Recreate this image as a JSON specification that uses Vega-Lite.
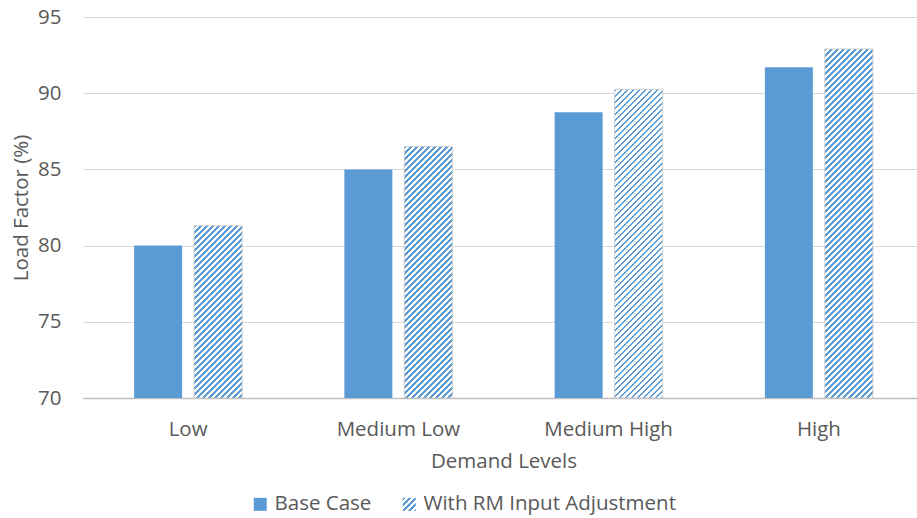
{
  "$schema": "https://vega.github.io/schema/vega-lite/v6.json",
  "width": 834,
  "height": 381,
  "autosize": {"type": "none"},
  "padding": {"left": 83, "top": 17, "right": 0, "bottom": 120},
  "params": [
    {
      "name": "hatch",
      "value": [
        {"offset":0.00,"color":"#5b9bd5"},{"offset":0.004,"color":"#5b9bd5"},{"offset":0.004,"color":"#fff"},{"offset":0.01,"color":"#fff"},
        {"offset":0.01,"color":"#5b9bd5"},{"offset":0.014,"color":"#5b9bd5"},{"offset":0.014,"color":"#fff"},{"offset":0.02,"color":"#fff"},
        {"offset":0.02,"color":"#5b9bd5"},{"offset":0.024,"color":"#5b9bd5"},{"offset":0.024,"color":"#fff"},{"offset":0.03,"color":"#fff"},
        {"offset":0.03,"color":"#5b9bd5"},{"offset":0.034,"color":"#5b9bd5"},{"offset":0.034,"color":"#fff"},{"offset":0.04,"color":"#fff"},
        {"offset":0.04,"color":"#5b9bd5"},{"offset":0.044,"color":"#5b9bd5"},{"offset":0.044,"color":"#fff"},{"offset":0.05,"color":"#fff"},
        {"offset":0.05,"color":"#5b9bd5"},{"offset":0.054,"color":"#5b9bd5"},{"offset":0.054,"color":"#fff"},{"offset":0.06,"color":"#fff"},
        {"offset":0.06,"color":"#5b9bd5"},{"offset":0.064,"color":"#5b9bd5"},{"offset":0.064,"color":"#fff"},{"offset":0.07,"color":"#fff"},
        {"offset":0.07,"color":"#5b9bd5"},{"offset":0.074,"color":"#5b9bd5"},{"offset":0.074,"color":"#fff"},{"offset":0.08,"color":"#fff"},
        {"offset":0.08,"color":"#5b9bd5"},{"offset":0.084,"color":"#5b9bd5"},{"offset":0.084,"color":"#fff"},{"offset":0.09,"color":"#fff"},
        {"offset":0.09,"color":"#5b9bd5"},{"offset":0.094,"color":"#5b9bd5"},{"offset":0.094,"color":"#fff"},{"offset":0.10,"color":"#fff"},
        {"offset":0.10,"color":"#5b9bd5"},{"offset":0.104,"color":"#5b9bd5"},{"offset":0.104,"color":"#fff"},{"offset":0.11,"color":"#fff"},
        {"offset":0.11,"color":"#5b9bd5"},{"offset":0.114,"color":"#5b9bd5"},{"offset":0.114,"color":"#fff"},{"offset":0.12,"color":"#fff"},
        {"offset":0.12,"color":"#5b9bd5"},{"offset":0.124,"color":"#5b9bd5"},{"offset":0.124,"color":"#fff"},{"offset":0.13,"color":"#fff"},
        {"offset":0.13,"color":"#5b9bd5"},{"offset":0.134,"color":"#5b9bd5"},{"offset":0.134,"color":"#fff"},{"offset":0.14,"color":"#fff"},
        {"offset":0.14,"color":"#5b9bd5"},{"offset":0.144,"color":"#5b9bd5"},{"offset":0.144,"color":"#fff"},{"offset":0.15,"color":"#fff"},
        {"offset":0.15,"color":"#5b9bd5"},{"offset":0.154,"color":"#5b9bd5"},{"offset":0.154,"color":"#fff"},{"offset":0.16,"color":"#fff"},
        {"offset":0.16,"color":"#5b9bd5"},{"offset":0.164,"color":"#5b9bd5"},{"offset":0.164,"color":"#fff"},{"offset":0.17,"color":"#fff"},
        {"offset":0.17,"color":"#5b9bd5"},{"offset":0.174,"color":"#5b9bd5"},{"offset":0.174,"color":"#fff"},{"offset":0.18,"color":"#fff"},
        {"offset":0.18,"color":"#5b9bd5"},{"offset":0.184,"color":"#5b9bd5"},{"offset":0.184,"color":"#fff"},{"offset":0.19,"color":"#fff"},
        {"offset":0.19,"color":"#5b9bd5"},{"offset":0.194,"color":"#5b9bd5"},{"offset":0.194,"color":"#fff"},{"offset":0.20,"color":"#fff"},
        {"offset":0.20,"color":"#5b9bd5"},{"offset":0.204,"color":"#5b9bd5"},{"offset":0.204,"color":"#fff"},{"offset":0.21,"color":"#fff"},
        {"offset":0.21,"color":"#5b9bd5"},{"offset":0.214,"color":"#5b9bd5"},{"offset":0.214,"color":"#fff"},{"offset":0.22,"color":"#fff"},
        {"offset":0.22,"color":"#5b9bd5"},{"offset":0.224,"color":"#5b9bd5"},{"offset":0.224,"color":"#fff"},{"offset":0.23,"color":"#fff"},
        {"offset":0.23,"color":"#5b9bd5"},{"offset":0.234,"color":"#5b9bd5"},{"offset":0.234,"color":"#fff"},{"offset":0.24,"color":"#fff"},
        {"offset":0.24,"color":"#5b9bd5"},{"offset":0.244,"color":"#5b9bd5"},{"offset":0.244,"color":"#fff"},{"offset":0.25,"color":"#fff"},
        {"offset":0.25,"color":"#5b9bd5"},{"offset":0.254,"color":"#5b9bd5"},{"offset":0.254,"color":"#fff"},{"offset":0.26,"color":"#fff"},
        {"offset":0.26,"color":"#5b9bd5"},{"offset":0.264,"color":"#5b9bd5"},{"offset":0.264,"color":"#fff"},{"offset":0.27,"color":"#fff"},
        {"offset":0.27,"color":"#5b9bd5"},{"offset":0.274,"color":"#5b9bd5"},{"offset":0.274,"color":"#fff"},{"offset":0.28,"color":"#fff"},
        {"offset":0.28,"color":"#5b9bd5"},{"offset":0.284,"color":"#5b9bd5"},{"offset":0.284,"color":"#fff"},{"offset":0.29,"color":"#fff"},
        {"offset":0.29,"color":"#5b9bd5"},{"offset":0.294,"color":"#5b9bd5"},{"offset":0.294,"color":"#fff"},{"offset":0.30,"color":"#fff"},
        {"offset":0.30,"color":"#5b9bd5"},{"offset":0.304,"color":"#5b9bd5"},{"offset":0.304,"color":"#fff"},{"offset":0.31,"color":"#fff"},
        {"offset":0.31,"color":"#5b9bd5"},{"offset":0.314,"color":"#5b9bd5"},{"offset":0.314,"color":"#fff"},{"offset":0.32,"color":"#fff"},
        {"offset":0.32,"color":"#5b9bd5"},{"offset":0.324,"color":"#5b9bd5"},{"offset":0.324,"color":"#fff"},{"offset":0.33,"color":"#fff"},
        {"offset":0.33,"color":"#5b9bd5"},{"offset":0.334,"color":"#5b9bd5"},{"offset":0.334,"color":"#fff"},{"offset":0.34,"color":"#fff"},
        {"offset":0.34,"color":"#5b9bd5"},{"offset":0.344,"color":"#5b9bd5"},{"offset":0.344,"color":"#fff"},{"offset":0.35,"color":"#fff"},
        {"offset":0.35,"color":"#5b9bd5"},{"offset":0.354,"color":"#5b9bd5"},{"offset":0.354,"color":"#fff"},{"offset":0.36,"color":"#fff"},
        {"offset":0.36,"color":"#5b9bd5"},{"offset":0.364,"color":"#5b9bd5"},{"offset":0.364,"color":"#fff"},{"offset":0.37,"color":"#fff"},
        {"offset":0.37,"color":"#5b9bd5"},{"offset":0.374,"color":"#5b9bd5"},{"offset":0.374,"color":"#fff"},{"offset":0.38,"color":"#fff"},
        {"offset":0.38,"color":"#5b9bd5"},{"offset":0.384,"color":"#5b9bd5"},{"offset":0.384,"color":"#fff"},{"offset":0.39,"color":"#fff"},
        {"offset":0.39,"color":"#5b9bd5"},{"offset":0.394,"color":"#5b9bd5"},{"offset":0.394,"color":"#fff"},{"offset":0.40,"color":"#fff"},
        {"offset":0.40,"color":"#5b9bd5"},{"offset":0.404,"color":"#5b9bd5"},{"offset":0.404,"color":"#fff"},{"offset":0.41,"color":"#fff"},
        {"offset":0.41,"color":"#5b9bd5"},{"offset":0.414,"color":"#5b9bd5"},{"offset":0.414,"color":"#fff"},{"offset":0.42,"color":"#fff"},
        {"offset":0.42,"color":"#5b9bd5"},{"offset":0.424,"color":"#5b9bd5"},{"offset":0.424,"color":"#fff"},{"offset":0.43,"color":"#fff"},
        {"offset":0.43,"color":"#5b9bd5"},{"offset":0.434,"color":"#5b9bd5"},{"offset":0.434,"color":"#fff"},{"offset":0.44,"color":"#fff"},
        {"offset":0.44,"color":"#5b9bd5"},{"offset":0.444,"color":"#5b9bd5"},{"offset":0.444,"color":"#fff"},{"offset":0.45,"color":"#fff"},
        {"offset":0.45,"color":"#5b9bd5"},{"offset":0.454,"color":"#5b9bd5"},{"offset":0.454,"color":"#fff"},{"offset":0.46,"color":"#fff"},
        {"offset":0.46,"color":"#5b9bd5"},{"offset":0.464,"color":"#5b9bd5"},{"offset":0.464,"color":"#fff"},{"offset":0.47,"color":"#fff"},
        {"offset":0.47,"color":"#5b9bd5"},{"offset":0.474,"color":"#5b9bd5"},{"offset":0.474,"color":"#fff"},{"offset":0.48,"color":"#fff"},
        {"offset":0.48,"color":"#5b9bd5"},{"offset":0.484,"color":"#5b9bd5"},{"offset":0.484,"color":"#fff"},{"offset":0.49,"color":"#fff"},
        {"offset":0.49,"color":"#5b9bd5"},{"offset":0.494,"color":"#5b9bd5"},{"offset":0.494,"color":"#fff"},{"offset":0.50,"color":"#fff"},
        {"offset":0.50,"color":"#5b9bd5"},{"offset":0.504,"color":"#5b9bd5"},{"offset":0.504,"color":"#fff"},{"offset":0.51,"color":"#fff"},
        {"offset":0.51,"color":"#5b9bd5"},{"offset":0.514,"color":"#5b9bd5"},{"offset":0.514,"color":"#fff"},{"offset":0.52,"color":"#fff"},
        {"offset":0.52,"color":"#5b9bd5"},{"offset":0.524,"color":"#5b9bd5"},{"offset":0.524,"color":"#fff"},{"offset":0.53,"color":"#fff"},
        {"offset":0.53,"color":"#5b9bd5"},{"offset":0.534,"color":"#5b9bd5"},{"offset":0.534,"color":"#fff"},{"offset":0.54,"color":"#fff"},
        {"offset":0.54,"color":"#5b9bd5"},{"offset":0.544,"color":"#5b9bd5"},{"offset":0.544,"color":"#fff"},{"offset":0.55,"color":"#fff"},
        {"offset":0.55,"color":"#5b9bd5"},{"offset":0.554,"color":"#5b9bd5"},{"offset":0.554,"color":"#fff"},{"offset":0.56,"color":"#fff"},
        {"offset":0.56,"color":"#5b9bd5"},{"offset":0.564,"color":"#5b9bd5"},{"offset":0.564,"color":"#fff"},{"offset":0.57,"color":"#fff"},
        {"offset":0.57,"color":"#5b9bd5"},{"offset":0.574,"color":"#5b9bd5"},{"offset":0.574,"color":"#fff"},{"offset":0.58,"color":"#fff"},
        {"offset":0.58,"color":"#5b9bd5"},{"offset":0.584,"color":"#5b9bd5"},{"offset":0.584,"color":"#fff"},{"offset":0.59,"color":"#fff"},
        {"offset":0.59,"color":"#5b9bd5"},{"offset":0.594,"color":"#5b9bd5"},{"offset":0.594,"color":"#fff"},{"offset":0.60,"color":"#fff"},
        {"offset":0.60,"color":"#5b9bd5"},{"offset":0.604,"color":"#5b9bd5"},{"offset":0.604,"color":"#fff"},{"offset":0.61,"color":"#fff"},
        {"offset":0.61,"color":"#5b9bd5"},{"offset":0.614,"color":"#5b9bd5"},{"offset":0.614,"color":"#fff"},{"offset":0.62,"color":"#fff"},
        {"offset":0.62,"color":"#5b9bd5"},{"offset":0.624,"color":"#5b9bd5"},{"offset":0.624,"color":"#fff"},{"offset":0.63,"color":"#fff"},
        {"offset":0.63,"color":"#5b9bd5"},{"offset":0.634,"color":"#5b9bd5"},{"offset":0.634,"color":"#fff"},{"offset":0.64,"color":"#fff"},
        {"offset":0.64,"color":"#5b9bd5"},{"offset":0.644,"color":"#5b9bd5"},{"offset":0.644,"color":"#fff"},{"offset":0.65,"color":"#fff"},
        {"offset":0.65,"color":"#5b9bd5"},{"offset":0.654,"color":"#5b9bd5"},{"offset":0.654,"color":"#fff"},{"offset":0.66,"color":"#fff"},
        {"offset":0.66,"color":"#5b9bd5"},{"offset":0.664,"color":"#5b9bd5"},{"offset":0.664,"color":"#fff"},{"offset":0.67,"color":"#fff"}
      ]
    }
  ],
  "data": {
    "values": [
      {"level": "Low", "series": "Base Case", "value": 80.0},
      {"level": "Low", "series": "With RM Input Adjustment", "value": 81.3},
      {"level": "Medium Low", "series": "Base Case", "value": 85.0},
      {"level": "Medium Low", "series": "With RM Input Adjustment", "value": 86.5},
      {"level": "Medium High", "series": "Base Case", "value": 88.75},
      {"level": "Medium High", "series": "With RM Input Adjustment", "value": 90.25},
      {"level": "High", "series": "Base Case", "value": 91.7},
      {"level": "High", "series": "With RM Input Adjustment", "value": 92.9}
    ]
  },
  "mark": {"type": "bar"},
  "encoding": {
    "x": {
      "field": "level",
      "type": "nominal",
      "sort": ["Low", "Medium Low", "Medium High", "High"],
      "scale": {"range": [0, 841], "paddingInner": 0, "paddingOuter": 0},
      "title": "Demand Levels",
      "axis": {
        "labelAngle": 0,
        "ticks": false,
        "grid": false,
        "domainColor": "#bfbfbf",
        "domainWidth": 1.5,
        "labelPadding": 21,
        "titlePadding": 12,
        "labelFontSize": 20.5,
        "titleFontSize": 20.5
      }
    },
    "xOffset": {
      "field": "series",
      "type": "nominal",
      "sort": ["Base Case", "With RM Input Adjustment"],
      "scale": {"paddingInner": 0.2, "paddingOuter": 0.852}
    },
    "y": {
      "field": "value",
      "type": "quantitative",
      "scale": {"domain": [70, 95], "nice": false, "zero": false},
      "title": "Load Factor (%)",
      "axis": {
        "values": [70, 75, 80, 85, 90, 95],
        "domain": false,
        "ticks": false,
        "tickSize": 0,
        "gridColor": "#d9d9d9",
        "gridWidth": 1,
        "labelPadding": 22,
        "titlePadding": 6,
        "labelFontSize": 20.5,
        "titleFontSize": 20.5
      }
    },
    "y2": {"datum": 70},
    "fill": {
      "field": "series",
      "type": "nominal",
      "scale": {
        "domain": ["Base Case", "With RM Input Adjustment"],
        "range": [
          "#5b9bd5",
          {"expr": "{gradient: 'linear', x1: 0, y1: 0, x2: 23.08, y2: 23.08, stops: hatch}"}
        ]
      },
      "condition": {
        "test": "datum.series === 'With RM Input Adjustment'",
        "value": {
          "expr": "{gradient: 'linear', x1: 0, y1: 0, x2: 600 * bandwidth('xOffset') / (pow(bandwidth('xOffset'), 2) + pow(scale('y', 70) - scale('y', datum.value), 2)), y2: 600 * (scale('y', 70) - scale('y', datum.value)) / (pow(bandwidth('xOffset'), 2) + pow(scale('y', 70) - scale('y', datum.value), 2)), stops: hatch}"
        }
      },
      "legend": {
        "orient": "none",
        "legendX": 167,
        "legendY": 477,
        "direction": "horizontal",
        "title": null,
        "symbolType": "square",
        "symbolSize": 169,
        "symbolStrokeWidth": 0,
        "labelFontSize": 20.5,
        "labelColor": "#595959",
        "labelOffset": 4,
        "labelLimit": 500,
        "columnPadding": 27
      }
    },
    "stroke": {
      "condition": {"test": "datum.series === 'With RM Input Adjustment'", "value": "#c6c6c6"},
      "value": null
    },
    "strokeWidth": {"value": 0.8}
  },
  "config": {
    "font": "Open Sans",
    "view": {"stroke": null},
    "axis": {
      "labelFont": "Open Sans",
      "titleFont": "Open Sans",
      "labelColor": "#595959",
      "titleColor": "#595959",
      "titleFontWeight": "normal"
    },
    "legend": {"labelFont": "Open Sans"}
  }
}
